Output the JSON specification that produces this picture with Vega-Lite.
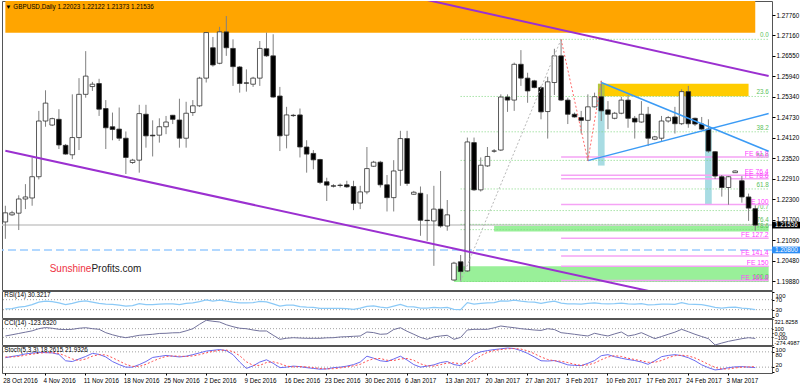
{
"$schema":"https://vega.github.io/schema/vega-lite/v6.json",
"padding":0,
"background":"white",
"spacing":1,
"bounds":"flush",
"config":{"view":{"stroke":"#555555","strokeWidth":1},"axis":{"labelFont":"Liberation Sans","labelFontSize":6.3,"labelColor":"#000","tickColor":"#000","tickSize":3,"labelPadding":1,"domain":false,"grid":false,"labelOverlap":false},"text":{"font":"Liberation Sans"}},
"datasets":{"candles":[
{"d":"2016-10-28","o":1.2163,"h":1.2211,"l":1.2113,"c":1.219,"r":33,"cc":-68,"k":57,"s":60},
{"d":"2016-10-30","o":1.2184,"h":1.2196,"l":1.2181,"c":1.219,"r":34,"cc":-40,"k":62,"s":60},
{"d":"2016-10-31","o":1.2189,"h":1.2242,"l":1.2139,"c":1.2231,"r":40,"cc":-10,"k":66,"s":62},
{"d":"2016-11-01","o":1.2231,"h":1.2275,"l":1.2201,"c":1.2237,"r":43,"cc":20,"k":72,"s":67},
{"d":"2016-11-02","o":1.2234,"h":1.2354,"l":1.2211,"c":1.2297,"r":50,"cc":50,"k":75,"s":71},
{"d":"2016-11-03","o":1.2297,"h":1.2492,"l":1.2289,"c":1.2462,"r":60,"cc":100,"k":78,"s":75},
{"d":"2016-11-04","o":1.2462,"h":1.2553,"l":1.2445,"c":1.2515,"r":64,"cc":125,"k":77,"s":77},
{"d":"2016-11-06","o":1.245,"h":1.2472,"l":1.2447,"c":1.2469,"r":62,"cc":110,"k":76,"s":77},
{"d":"2016-11-07","o":1.2467,"h":1.2497,"l":1.2379,"c":1.2391,"r":57,"cc":86,"k":70,"s":74},
{"d":"2016-11-08","o":1.239,"h":1.2394,"l":1.2362,"c":1.2364,"r":50,"cc":80,"k":45,"s":64},
{"d":"2016-11-09","o":1.2362,"h":1.2541,"l":1.2349,"c":1.2413,"r":55,"cc":85,"k":42,"s":52},
{"d":"2016-11-10","o":1.2413,"h":1.2589,"l":1.2376,"c":1.2541,"r":62,"cc":110,"k":52,"s":46},
{"d":"2016-11-11","o":1.2541,"h":1.2669,"l":1.2531,"c":1.2595,"r":65,"cc":122,"k":62,"s":52},
{"d":"2016-11-13","o":1.2564,"h":1.2578,"l":1.2551,"c":1.2571,"r":60,"cc":100,"k":74,"s":63},
{"d":"2016-11-14","o":1.2573,"h":1.2587,"l":1.2477,"c":1.2497,"r":55,"cc":86,"k":70,"s":69},
{"d":"2016-11-15","o":1.2499,"h":1.2524,"l":1.2379,"c":1.2442,"r":52,"cc":8,"k":60,"s":68},
{"d":"2016-11-16","o":1.2445,"h":1.2487,"l":1.2405,"c":1.2437,"r":51,"cc":-40,"k":42,"s":57},
{"d":"2016-11-17","o":1.2438,"h":1.2502,"l":1.2403,"c":1.2411,"r":48,"cc":-80,"k":30,"s":44},
{"d":"2016-11-18","o":1.2411,"h":1.2431,"l":1.2305,"c":1.2354,"r":44,"cc":-107,"k":20,"s":31},
{"d":"2016-11-20","o":1.2339,"h":1.235,"l":1.2335,"c":1.2346,"r":46,"cc":-80,"k":20,"s":23},
{"d":"2016-11-21","o":1.2346,"h":1.251,"l":1.2309,"c":1.2484,"r":54,"cc":-52,"k":30,"s":23},
{"d":"2016-11-22","o":1.2482,"h":1.251,"l":1.2383,"c":1.2418,"r":50,"cc":-40,"k":42,"s":31},
{"d":"2016-11-23","o":1.242,"h":1.2464,"l":1.2357,"c":1.2418,"r":50,"cc":-29,"k":58,"s":43},
{"d":"2016-11-24","o":1.242,"h":1.247,"l":1.2398,"c":1.2445,"r":52,"cc":-10,"k":62,"s":54},
{"d":"2016-11-25","o":1.2445,"h":1.2477,"l":1.2423,"c":1.2459,"r":53,"cc":-6,"k":66,"s":62},
{"d":"2016-11-27","o":1.2479,"h":1.248,"l":1.2453,"c":1.2467,"r":53,"cc":5,"k":63,"s":64},
{"d":"2016-11-28","o":1.2465,"h":1.2528,"l":1.2383,"c":1.2411,"r":50,"cc":8,"k":60,"s":63},
{"d":"2016-11-29","o":1.2411,"h":1.2519,"l":1.2383,"c":1.2485,"r":55,"cc":50,"k":63,"s":62},
{"d":"2016-11-30","o":1.2487,"h":1.2524,"l":1.2477,"c":1.2507,"r":57,"cc":99,"k":69,"s":64},
{"d":"2016-12-01","o":1.2507,"h":1.2593,"l":1.2504,"c":1.2589,"r":62,"cc":200,"k":76,"s":69},
{"d":"2016-12-02","o":1.2589,"h":1.2726,"l":1.2576,"c":1.2724,"r":69,"cc":292,"k":83,"s":76},
{"d":"2016-12-04","o":1.2679,"h":1.2711,"l":1.2623,"c":1.2628,"r":64,"cc":270,"k":86,"s":82},
{"d":"2016-12-05","o":1.2633,"h":1.2741,"l":1.263,"c":1.2726,"r":68,"cc":253,"k":89,"s":86},
{"d":"2016-12-06","o":1.2726,"h":1.2773,"l":1.2655,"c":1.2679,"r":64,"cc":190,"k":85,"s":87},
{"d":"2016-12-07","o":1.2677,"h":1.2704,"l":1.2566,"c":1.2623,"r":60,"cc":145,"k":69,"s":81},
{"d":"2016-12-08","o":1.2622,"h":1.2625,"l":1.2546,"c":1.2573,"r":57,"cc":110,"k":40,"s":65},
{"d":"2016-12-09","o":1.2575,"h":1.2615,"l":1.2549,"c":1.2574,"r":57,"cc":99,"k":15,"s":41},
{"d":"2016-12-11","o":1.2571,"h":1.2593,"l":1.2563,"c":1.2589,"r":58,"cc":70,"k":25,"s":27},
{"d":"2016-12-12","o":1.2589,"h":1.2699,"l":1.2566,"c":1.2677,"r":63,"cc":47,"k":40,"s":27},
{"d":"2016-12-13","o":1.2676,"h":1.2724,"l":1.2652,"c":1.2655,"r":61,"cc":47,"k":49,"s":38},
{"d":"2016-12-14","o":1.2655,"h":1.2719,"l":1.2531,"c":1.2533,"r":53,"cc":-50,"k":35,"s":41},
{"d":"2016-12-15","o":1.2536,"h":1.2563,"l":1.2373,"c":1.2418,"r":44,"cc":-144,"k":18,"s":34},
{"d":"2016-12-16","o":1.242,"h":1.2504,"l":1.2381,"c":1.248,"r":48,"cc":-120,"k":20,"s":24},
{"d":"2016-12-18","o":1.2479,"h":1.2483,"l":1.2474,"c":1.2478,"r":48,"cc":-107,"k":24,"s":21},
{"d":"2016-12-19","o":1.248,"h":1.2499,"l":1.2354,"c":1.2385,"r":42,"cc":-115,"k":22,"s":22},
{"d":"2016-12-20","o":1.2385,"h":1.2405,"l":1.2309,"c":1.2364,"r":40,"cc":-121,"k":18,"s":21},
{"d":"2016-12-21","o":1.2366,"h":1.2376,"l":1.2319,"c":1.2347,"r":39,"cc":-121,"k":15,"s":18},
{"d":"2016-12-22","o":1.2348,"h":1.235,"l":1.2275,"c":1.228,"r":35,"cc":-121,"k":12,"s":15},
{"d":"2016-12-23","o":1.2282,"h":1.2294,"l":1.2225,"c":1.2272,"r":35,"cc":-110,"k":13,"s":13},
{"d":"2016-12-25","o":1.227,"h":1.2275,"l":1.2265,"c":1.2269,"r":35,"cc":-107,"k":18,"s":14},
{"d":"2016-12-26","o":1.2272,"h":1.2277,"l":1.2265,"c":1.2271,"r":35,"cc":-90,"k":20,"s":17},
{"d":"2016-12-27","o":1.2273,"h":1.2285,"l":1.2264,"c":1.2267,"r":34,"cc":-84,"k":24,"s":21},
{"d":"2016-12-28","o":1.2268,"h":1.2285,"l":1.2198,"c":1.2218,"r":31,"cc":-75,"k":30,"s":25},
{"d":"2016-12-29","o":1.2219,"h":1.227,"l":1.2201,"c":1.2252,"r":36,"cc":-68,"k":40,"s":31},
{"d":"2016-12-30","o":1.2252,"h":1.2385,"l":1.2245,"c":1.2321,"r":43,"cc":24,"k":63,"s":44},
{"d":"2017-01-01","o":1.2328,"h":1.2344,"l":1.2326,"c":1.234,"r":45,"cc":10,"k":55,"s":53},
{"d":"2017-01-02","o":1.234,"h":1.2344,"l":1.2265,"c":1.2273,"r":40,"cc":-29,"k":45,"s":54},
{"d":"2017-01-03","o":1.2273,"h":1.2302,"l":1.2194,"c":1.2235,"r":37,"cc":-20,"k":42,"s":47},
{"d":"2017-01-04","o":1.2235,"h":1.2346,"l":1.2194,"c":1.2314,"r":44,"cc":80,"k":52,"s":46},
{"d":"2017-01-05","o":1.2316,"h":1.2433,"l":1.227,"c":1.241,"r":51,"cc":122,"k":63,"s":52},
{"d":"2017-01-06","o":1.241,"h":1.2433,"l":1.227,"c":1.2277,"r":42,"cc":40,"k":48,"s":54},
{"d":"2017-01-08","o":1.2245,"h":1.2255,"l":1.2243,"c":1.2251,"r":41,"cc":-29,"k":30,"s":47},
{"d":"2017-01-09","o":1.2248,"h":1.2268,"l":1.2122,"c":1.2168,"r":36,"cc":-100,"k":20,"s":33},
{"d":"2017-01-10","o":1.2168,"h":1.2245,"l":1.2107,"c":1.2167,"r":36,"cc":-144,"k":24,"s":25},
{"d":"2017-01-11","o":1.2166,"h":1.227,"l":1.2033,"c":1.2201,"r":39,"cc":-90,"k":29,"s":24},
{"d":"2017-01-12","o":1.2201,"h":1.2314,"l":1.2146,"c":1.2151,"r":37,"cc":-68,"k":38,"s":30},
{"d":"2017-01-13","o":1.2151,"h":1.2228,"l":1.2137,"c":1.2184,"r":39,"cc":-52,"k":42,"s":36},
{"d":"2017-01-15","o":1.1991,"h":1.2045,"l":1.1989,"c":1.2041,"r":31,"cc":-144,"k":30,"s":37},
{"d":"2017-01-16","o":1.2045,"h":1.2065,"l":1.1987,"c":1.2016,"r":30,"cc":-100,"k":26,"s":33},
{"d":"2017-01-17","o":1.2018,"h":1.2413,"l":1.2015,"c":1.24,"r":58,"cc":70,"k":46,"s":34},
{"d":"2017-01-18","o":1.2398,"h":1.2413,"l":1.2255,"c":1.2258,"r":52,"cc":85,"k":70,"s":47},
{"d":"2017-01-19","o":1.2258,"h":1.2354,"l":1.2253,"c":1.2331,"r":55,"cc":85,"k":80,"s":65},
{"d":"2017-01-20","o":1.2329,"h":1.2385,"l":1.2326,"c":1.2357,"r":57,"cc":85,"k":85,"s":78},
{"d":"2017-01-22","o":1.2373,"h":1.2379,"l":1.2368,"c":1.2373,"r":58,"cc":120,"k":89,"s":85},
{"d":"2017-01-23","o":1.2376,"h":1.2541,"l":1.2373,"c":1.2533,"r":65,"cc":161,"k":92,"s":89},
{"d":"2017-01-24","o":1.2533,"h":1.2541,"l":1.2489,"c":1.2524,"r":64,"cc":140,"k":95,"s":92},
{"d":"2017-01-25","o":1.2524,"h":1.2635,"l":1.2492,"c":1.263,"r":68,"cc":122,"k":93,"s":93},
{"d":"2017-01-26","o":1.263,"h":1.2672,"l":1.2566,"c":1.2589,"r":64,"cc":100,"k":85,"s":91},
{"d":"2017-01-27","o":1.2589,"h":1.2605,"l":1.2516,"c":1.2551,"r":61,"cc":85,"k":74,"s":84},
{"d":"2017-01-29","o":1.2581,"h":1.2584,"l":1.2559,"c":1.2561,"r":60,"cc":69,"k":60,"s":73},
{"d":"2017-01-30","o":1.2561,"h":1.2566,"l":1.2467,"c":1.2489,"r":55,"cc":60,"k":45,"s":60},
{"d":"2017-01-31","o":1.249,"h":1.2593,"l":1.241,"c":1.2578,"r":60,"cc":99,"k":44,"s":50},
{"d":"2017-02-01","o":1.2576,"h":1.2676,"l":1.2539,"c":1.2655,"r":64,"cc":80,"k":46,"s":45},
{"d":"2017-02-02","o":1.2655,"h":1.2704,"l":1.2521,"c":1.2524,"r":56,"cc":8,"k":38,"s":43},
{"d":"2017-02-03","o":1.2524,"h":1.2531,"l":1.2453,"c":1.2482,"r":53,"cc":-10,"k":29,"s":38},
{"d":"2017-02-05","o":1.2482,"h":1.2487,"l":1.2472,"c":1.2474,"r":53,"cc":-29,"k":27,"s":31},
{"d":"2017-02-06","o":1.2472,"h":1.2492,"l":1.2425,"c":1.2464,"r":52,"cc":-50,"k":26,"s":27},
{"d":"2017-02-07","o":1.2464,"h":1.2541,"l":1.2344,"c":1.2504,"r":55,"cc":-68,"k":35,"s":29},
{"d":"2017-02-08","o":1.2504,"h":1.2546,"l":1.2502,"c":1.2534,"r":57,"cc":-6,"k":46,"s":36},
{"d":"2017-02-09","o":1.2534,"h":1.2581,"l":1.2462,"c":1.2492,"r":54,"cc":-40,"k":65,"s":49},
{"d":"2017-02-10","o":1.2495,"h":1.2521,"l":1.2438,"c":1.2482,"r":53,"cc":-68,"k":69,"s":60},
{"d":"2017-02-12","o":1.247,"h":1.2489,"l":1.2467,"c":1.2485,"r":54,"cc":-20,"k":61,"s":65},
{"d":"2017-02-13","o":1.2485,"h":1.2534,"l":1.2482,"c":1.2524,"r":56,"cc":24,"k":55,"s":62},
{"d":"2017-02-14","o":1.2524,"h":1.2538,"l":1.2442,"c":1.247,"r":53,"cc":-68,"k":50,"s":55},
{"d":"2017-02-15","o":1.247,"h":1.2477,"l":1.241,"c":1.2459,"r":52,"cc":-40,"k":46,"s":50},
{"d":"2017-02-16","o":1.2459,"h":1.2521,"l":1.2457,"c":1.2482,"r":54,"cc":8,"k":40,"s":45},
{"d":"2017-02-17","o":1.2482,"h":1.2504,"l":1.2388,"c":1.2411,"r":49,"cc":-60,"k":31,"s":39},
{"d":"2017-02-19","o":1.2408,"h":1.2418,"l":1.2405,"c":1.2415,"r":50,"cc":-129,"k":45,"s":39},
{"d":"2017-02-20","o":1.2411,"h":1.2477,"l":1.2403,"c":1.2462,"r":52,"cc":-80,"k":61,"s":46},
{"d":"2017-02-21","o":1.2462,"h":1.2477,"l":1.2457,"c":1.2472,"r":52,"cc":-29,"k":66,"s":57},
{"d":"2017-02-22","o":1.2474,"h":1.2504,"l":1.2425,"c":1.2454,"r":51,"cc":20,"k":69,"s":65},
{"d":"2017-02-23","o":1.2454,"h":1.2556,"l":1.245,"c":1.2549,"r":58,"cc":85,"k":65,"s":67},
{"d":"2017-02-24","o":1.2549,"h":1.2566,"l":1.2442,"c":1.2454,"r":52,"cc":30,"k":57,"s":64},
{"d":"2017-02-26","o":1.247,"h":1.2472,"l":1.2447,"c":1.2453,"r":51,"cc":-29,"k":45,"s":56},
{"d":"2017-02-27","o":1.2453,"h":1.2474,"l":1.2436,"c":1.2438,"r":50,"cc":-80,"k":29,"s":44},
{"d":"2017-02-28","o":1.2438,"h":1.2467,"l":1.2368,"c":1.2373,"r":45,"cc":-129,"k":18,"s":31},
{"d":"2017-03-01","o":1.2371,"h":1.2373,"l":1.229,"c":1.2299,"r":39,"cc":-274,"k":9,"s":19},
{"d":"2017-03-02","o":1.2297,"h":1.2302,"l":1.2238,"c":1.2265,"r":36,"cc":-230,"k":12,"s":13},
{"d":"2017-03-03","o":1.2265,"h":1.2299,"l":1.2214,"c":1.2297,"r":39,"cc":-190,"k":18,"s":13},
{"d":"2017-03-05","o":1.2309,"h":1.2316,"l":1.2308,"c":1.2314,"r":40,"cc":-160,"k":21,"s":17},
{"d":"2017-03-06","o":1.2285,"h":1.2299,"l":1.222,"c":1.2237,"r":36,"cc":-130,"k":22,"s":20},
{"d":"2017-03-07","o":1.2237,"h":1.2247,"l":1.2166,"c":1.2204,"r":34,"cc":-107,"k":20,"s":21},
{"d":"2017-03-08","o":1.22023,"h":1.22122,"l":1.21373,"c":1.21536,"r":30.32,"cc":-123.63,"k":18.26,"s":21.93}
]},
"vconcat":[
{
"width":770,"height":289,
"resolve":{"axis":{"y":"independent"}},
"layer":[
{"data":{"values":[{"d":"2016-10-28","d2":"2017-03-08","y0":1.284,"y1":1.27236}]},
 "mark":{"type":"rect","color":"#FFA500","clip":true},
 "encoding":{"x":{"field":"d","type":"ordinal","scale":{"type":"band","paddingInner":0,"paddingOuter":0},"axis":null},"x2":{"field":"d2"},"y":{"field":"y0","type":"quantitative","scale":{"domain":[1.19614,1.28175],"nice":false,"zero":false},"axis":null},"y2":{"field":"y1"}}},
{"data":{"values":[{"d":"2017-02-09","d2":"2017-03-07","y0":1.25726,"y1":1.25354}]},
 "mark":{"type":"rect","color":"#FFCC00"},
 "encoding":{"x":{"field":"d","type":"ordinal","scale":{"type":"band"},"axis":null},"x2":{"field":"d2"},"y":{"field":"y0","type":"quantitative","axis":null},"y2":{"field":"y1"}}},
{"data":{"values":[{"d":"2017-02-09","y0":1.25354,"y1":1.2330},{"d":"2017-02-28","y0":1.24377,"y1":1.22157}]},
 "mark":{"type":"rect","color":"#a8dce3"},
 "encoding":{"x":{"field":"d","type":"ordinal","scale":{"type":"band"},"axis":null},"y":{"field":"y0","type":"quantitative","axis":null},"y2":{"field":"y1"}}},
{"data":{"values":[{"d":"2017-02-09","y0":1.25726,"y1":1.25354}]},
 "mark":{"type":"rect","color":"#b6c63c"},
 "encoding":{"x":{"field":"d","type":"ordinal","scale":{"type":"band"},"axis":null},"y":{"field":"y0","type":"quantitative","axis":null},"y2":{"field":"y1"}}},
{"data":{"values":[{"d":"2017-01-22","d2":"2017-03-10","y0":1.21514,"y1":1.21345},{"d":"2017-01-15","d2":"2017-03-10","y0":1.20315,"y1":1.1985}]},
 "mark":{"type":"rect","color":"#99f099"},
 "encoding":{"x":{"field":"d","type":"ordinal","scale":{"type":"band"},"axis":null},"x2":{"field":"d2"},"y":{"field":"y0","type":"quantitative","axis":null},"y2":{"field":"y1"}}},
{"data":{"values":[{"p":1.21536,"t":"cur"}]},
 "mark":{"type":"rule","color":"#c8c8c8","strokeWidth":1.5},
 "encoding":{"y":{"field":"p","type":"quantitative","axis":null}}},
{"data":{"values":[{"p":1.208,"t":"lvl"}]},
 "mark":{"type":"rule","color":"#99ccff","strokeWidth":1.5,"strokeDash":[8,4]},
 "encoding":{"y":{"field":"p","type":"quantitative","axis":null}}},
{"data":{"values":[{"d":"2017-01-16","d2":"2017-03-10","p":1.2704,"t":"0.0"},{"d":"2017-01-16","d2":"2017-03-10","p":1.25347,"t":"23.6"},{"d":"2017-01-16","d2":"2017-03-10","p":1.243,"t":"38.2"},{"d":"2017-01-16","d2":"2017-03-10","p":1.23453,"t":"50.0"},{"d":"2017-01-16","d2":"2017-03-10","p":1.22607,"t":"61.8"},{"d":"2017-01-16","d2":"2017-03-10","p":1.21967,"t":"70.7"},{"d":"2017-01-16","d2":"2017-03-10","p":1.21559,"t":"76.4"},{"d":"2017-01-16","d2":"2017-03-10","p":1.21402,"t":"78.6"},{"d":"2017-01-16","d2":"2017-03-10","p":1.19866,"t":"100.0"}]},
 "resolve":{"axis":{"y":"independent"}},
 "layer":[
  {"mark":{"type":"rule","color":"#7fd67f","strokeWidth":1,"strokeDash":[1,2]},
   "encoding":{"x":{"field":"d","type":"ordinal","scale":{"type":"band"},"axis":null},"x2":{"field":"d2"},"y":{"field":"p","type":"quantitative","axis":null}}},
  {"mark":{"type":"text","color":"#5cbf5c","fontSize":6.3,"align":"right","baseline":"bottom","dy":-1},
   "encoding":{"x":{"field":"d2","type":"ordinal","scale":{"type":"band"},"axis":null},"y":{"field":"p","type":"quantitative","axis":null},"text":{"field":"t"}}}
 ]},
{"data":{"values":[{"d":"2017-02-02","d2":"2017-03-10","p":1.23556,"t":"FE 61.8"},{"d":"2017-02-02","d2":"2017-03-10","p":1.2301,"t":"FE 76.4"},{"d":"2017-02-02","d2":"2017-03-10","p":1.2291,"t":"FE 78.6"},{"d":"2017-02-02","d2":"2017-03-10","p":1.22145,"t":"FE 100"},{"d":"2017-02-02","d2":"2017-03-10","p":1.2115,"t":"FE 127.2"},{"d":"2017-02-02","d2":"2017-03-10","p":1.20624,"t":"FE 141.4"},{"d":"2017-02-02","d2":"2017-03-10","p":1.20321,"t":"FE 150"},{"d":"2017-02-02","d2":"2017-03-10","p":1.19895,"t":"FE 161.8"}]},
 "resolve":{"axis":{"y":"independent"}},
 "layer":[
  {"mark":{"type":"rule","color":"#f5a3f5","strokeWidth":1.5},
   "encoding":{"x":{"field":"d","type":"ordinal","scale":{"type":"band"},"axis":null},"x2":{"field":"d2"},"y":{"field":"p","type":"quantitative","axis":null}}},
  {"mark":{"type":"text","color":"#ff40ff","fontSize":6.8,"align":"right","baseline":"bottom","dy":0},
   "encoding":{"x":{"field":"d2","type":"ordinal","scale":{"type":"band"},"axis":null},"y":{"field":"p","type":"quantitative","axis":null},"text":{"field":"t"}}}
 ]},
{"data":{"name":"candles"},
 "resolve":{"axis":{"y":"independent"}},
 "encoding":{"x":{"field":"d","type":"ordinal","scale":{"type":"band","paddingInner":0,"paddingOuter":0,"domain":["2016-10-28","2016-10-30","2016-10-31","2016-11-01","2016-11-02","2016-11-03","2016-11-04","2016-11-06","2016-11-07","2016-11-08","2016-11-09","2016-11-10","2016-11-11","2016-11-13","2016-11-14","2016-11-15","2016-11-16","2016-11-17","2016-11-18","2016-11-20","2016-11-21","2016-11-22","2016-11-23","2016-11-24","2016-11-25","2016-11-27","2016-11-28","2016-11-29","2016-11-30","2016-12-01","2016-12-02","2016-12-04","2016-12-05","2016-12-06","2016-12-07","2016-12-08","2016-12-09","2016-12-11","2016-12-12","2016-12-13","2016-12-14","2016-12-15","2016-12-16","2016-12-18","2016-12-19","2016-12-20","2016-12-21","2016-12-22","2016-12-23","2016-12-25","2016-12-26","2016-12-27","2016-12-28","2016-12-29","2016-12-30","2017-01-01","2017-01-02","2017-01-03","2017-01-04","2017-01-05","2017-01-06","2017-01-08","2017-01-09","2017-01-10","2017-01-11","2017-01-12","2017-01-13","2017-01-15","2017-01-16","2017-01-17","2017-01-18","2017-01-19","2017-01-20","2017-01-22","2017-01-23","2017-01-24","2017-01-25","2017-01-26","2017-01-27","2017-01-29","2017-01-30","2017-01-31","2017-02-01","2017-02-02","2017-02-03","2017-02-05","2017-02-06","2017-02-07","2017-02-08","2017-02-09","2017-02-10","2017-02-12","2017-02-13","2017-02-14","2017-02-15","2017-02-16","2017-02-17","2017-02-19","2017-02-20","2017-02-21","2017-02-22","2017-02-23","2017-02-24","2017-02-26","2017-02-27","2017-02-28","2017-03-01","2017-03-02","2017-03-03","2017-03-05","2017-03-06","2017-03-07","2017-03-08","2017-03-09","2017-03-10"]},"axis":null}},
 "layer":[
  {"mark":{"type":"rule","color":"#808080","strokeWidth":1},
   "encoding":{"y":{"field":"l","type":"quantitative","scale":{"domain":[1.19614,1.28175],"nice":false,"zero":false},"axis":{"orient":"right","values":[1.2776,1.2716,1.2655,1.2594,1.2534,1.2473,1.2412,1.2352,1.2291,1.223,1.217,1.2109,1.2048,1.1988],"format":".5f","title":null}},"y2":{"field":"h"}}},
  {"mark":{"type":"bar","width":4.6,"stroke":"#303030","strokeWidth":0.8},
   "encoding":{"y":{"field":"o","type":"quantitative","axis":null},"y2":{"field":"c"},"fill":{"condition":{"test":"datum.c >= datum.o","value":"#ffffff"},"value":"#000000"}}}
 ]},
{"data":{"values":[{"d":"2017-01-06","p":1.28337,"g":"u"},{"d":"2017-03-10","p":1.25953,"g":"u"},{"d":"2016-10-28","p":1.2374,"g":"l"},{"d":"2017-02-22","p":1.19416,"g":"l"}]},
 "mark":{"type":"line","color":"#9b30d0","strokeWidth":2,"clip":true},
 "encoding":{"x":{"field":"d","type":"ordinal","scale":{"type":"band"},"axis":null},"y":{"field":"p","type":"quantitative","axis":null},"detail":{"field":"g"}}},
{"data":{"values":[{"d":"2017-02-09","p":1.25762,"g":"a"},{"d":"2017-03-10","p":1.23723,"g":"a"},{"d":"2017-02-07","p":1.23447,"g":"b"},{"d":"2017-03-10","p":1.24842,"g":"b"}]},
 "mark":{"type":"line","color":"#3b9bf5","strokeWidth":1.5},
 "encoding":{"x":{"field":"d","type":"ordinal","scale":{"type":"band"},"axis":null},"y":{"field":"p","type":"quantitative","axis":null},"detail":{"field":"g"}}},
{"data":{"values":[{"d":"2017-02-02","p":1.2704},{"d":"2017-02-07","p":1.2344},{"d":"2017-02-09","p":1.2581}]},
 "mark":{"type":"line","color":"#ff6b6b","strokeWidth":1,"strokeDash":[2,2]},
 "encoding":{"x":{"field":"d","type":"ordinal","scale":{"type":"band"},"axis":null},"y":{"field":"p","type":"quantitative","axis":null}}},
{"data":{"values":[{"d":"2017-01-16","p":1.1987},{"d":"2017-02-02","p":1.2704}]},
 "mark":{"type":"line","color":"#b8b8b8","strokeWidth":1,"strokeDash":[2,2]},
 "encoding":{"x":{"field":"d","type":"ordinal","scale":{"type":"band"},"axis":null},"y":{"field":"p","type":"quantitative","axis":null}}},
{"data":{"values":[{"d":"2016-10-28","p":1.27997,"t":"\u25bc GBPUSD,Daily  1.22023 1.22122 1.21373 1.21536"}]},
 "mark":{"type":"text","fontSize":6.3,"align":"left","baseline":"middle","color":"#000"},
 "encoding":{"x":{"field":"d","type":"ordinal","scale":{"type":"band"},"axis":null},"y":{"field":"p","type":"quantitative","axis":null},"text":{"field":"t"}}},
{"data":{"values":[{"d":"2016-11-13","p":1.20233,"t":"Sunshine"}]},
 "mark":{"type":"text","fontSize":10,"align":"right","baseline":"middle","color":"#ee3344","dx":-1},
 "encoding":{"x":{"field":"d","type":"ordinal","scale":{"type":"band"},"axis":null},"y":{"field":"p","type":"quantitative","axis":null},"text":{"field":"t"}}},
{"data":{"values":[{"d":"2016-11-13","p":1.20233,"t":"Profits.com"}]},
 "mark":{"type":"text","fontSize":10,"align":"left","baseline":"middle","color":"#222222","dx":-1},
 "encoding":{"x":{"field":"d","type":"ordinal","scale":{"type":"band"},"axis":null},"y":{"field":"p","type":"quantitative","axis":null},"text":{"field":"t"}}},
{"data":{"values":[{"p0":1.21636,"p1":1.21436,"p":1.21536,"t":"1.21536","bg":"#000000"},{"p0":1.209,"p1":1.207,"p":1.208,"t":"1.20800","bg":"#2d8ef5"}]},
 "resolve":{"axis":{"y":"independent"}},
 "layer":[
  {"mark":{"type":"rect"},"encoding":{"x":{"value":"width"},"x2":{"value":{"expr":"width+29"}},"y":{"field":"p0","type":"quantitative","axis":null},"y2":{"field":"p1"},"color":{"field":"bg","type":"nominal","scale":null}}},
  {"mark":{"type":"text","fontSize":6.3,"align":"left","baseline":"middle","color":"#ffffff","dx":3},"encoding":{"x":{"value":"width"},"y":{"field":"p","type":"quantitative","axis":null},"text":{"field":"t"}}}
 ]}
]
},
{
"width":770,"height":27,
"data":{"name":"candles"},
"resolve":{"axis":{"y":"independent"}},
"layer":[
 {"data":{"values":[{"v":70},{"v":30}]},"mark":{"type":"rule","color":"#a0a0a0","strokeDash":[1,2]},"encoding":{"y":{"field":"v","type":"quantitative","scale":{"domain":[-3.3,104.7],"nice":false,"zero":false},"axis":null}}},
 {"mark":{"type":"line","color":"#8ccaf7","strokeWidth":1.2},"encoding":{"x":{"field":"d","type":"ordinal","scale":{"type":"band","paddingInner":0,"paddingOuter":1,"align":0},"axis":null},"y":{"field":"r","type":"quantitative","scale":{"domain":[-3.3,104.7],"nice":false,"zero":false},"axis":{"orient":"right","values":[0,30,70,100],"title":null,"labelFlush":6,"tickSize":2,"labelFontSize":6}}}},
 {"data":{"values":[{"d":"2016-10-28","v":104,"t":"RSI(14) 30.3217"}]},"mark":{"type":"text","fontSize":6.3,"align":"left","baseline":"top","color":"#000","dx":-1,"dy":1},"encoding":{"x":{"field":"d","type":"ordinal","scale":{"type":"band"},"axis":null},"y":{"field":"v","type":"quantitative","axis":null},"text":{"field":"t"}}}
]
},
{
"width":770,"height":26,
"data":{"name":"candles"},
"resolve":{"axis":{"y":"independent"}},
"layer":[
 {"data":{"values":[{"v":100},{"v":-100}]},"mark":{"type":"rule","color":"#a0a0a0","strokeDash":[1,2]},"encoding":{"y":{"field":"v","type":"quantitative","scale":{"domain":[-274.4987,321.8258],"nice":false,"zero":false},"axis":null}}},
 {"mark":{"type":"line","color":"#72729c","strokeWidth":1},"encoding":{"x":{"field":"d","type":"ordinal","scale":{"type":"band","paddingInner":0,"paddingOuter":1,"align":0},"axis":null},"y":{"field":"cc","type":"quantitative","scale":{"domain":[-274.4987,321.8258],"nice":false,"zero":false},"axis":{"orient":"right","values":[321.8258,100,0,-100,-274.4987],"labelExpr":"datum.value>300?'321.8258':datum.value<-200?'-274.4987':datum.value==0?'0.00':format(datum.value,'d')","title":null,"labelFlush":6,"tickSize":1,"labelPadding":1,"labelFontSize":5.6}}}},
 {"data":{"values":[{"d":"2016-10-28","v":321,"t":"CCI(14) -123.6320"}]},"mark":{"type":"text","fontSize":6.3,"align":"left","baseline":"top","color":"#000","dx":-1,"dy":1},"encoding":{"x":{"field":"d","type":"ordinal","scale":{"type":"band"},"axis":null},"y":{"field":"v","type":"quantitative","axis":null},"text":{"field":"t"}}}
]
},
{
"width":770,"height":27,
"data":{"name":"candles"},
"resolve":{"axis":{"y":"independent","x":"independent"}},
"layer":[
 {"data":{"values":[{"v":80},{"v":20}]},"mark":{"type":"rule","color":"#a0a0a0","strokeDash":[1,2]},"encoding":{"y":{"field":"v","type":"quantitative","scale":{"domain":[-3,103],"nice":false,"zero":false},"axis":null}}},
 {"mark":{"type":"line","color":"#6a6af0","strokeWidth":1},"encoding":{"x":{"field":"d","type":"ordinal","scale":{"type":"band","paddingInner":0,"paddingOuter":1,"align":0},"axis":{"orient":"bottom","values":["2016-10-28","2016-11-04","2016-11-11","2016-11-18","2016-11-25","2016-12-02","2016-12-09","2016-12-16","2016-12-23","2016-12-30","2017-01-06","2017-01-13","2017-01-20","2017-01-27","2017-02-03","2017-02-10","2017-02-17","2017-02-24","2017-03-03"],"labelExpr":"utcFormat(toDate(datum.value),'%-d %b %Y')","labelAngle":0,"labelAlign":"left","labelOffset":-2,"tickSize":2,"labelPadding":2,"labelFontSize":6.3,"title":null}},"y":{"field":"k","type":"quantitative","scale":{"domain":[-3,103],"nice":false,"zero":false},"axis":{"orient":"right","values":[0,20,80,100],"title":null,"labelFlush":6,"tickSize":2,"labelFontSize":6}}}},
 {"mark":{"type":"line","color":"#ff5050","strokeWidth":1,"strokeDash":[2,2]},"encoding":{"x":{"field":"d","type":"ordinal","scale":{"type":"band"},"axis":null},"y":{"field":"s","type":"quantitative","axis":null}}},
 {"data":{"values":[{"d":"2016-10-28","v":102,"t":"Stoch(5,3,3) 18.2615 21.9326"}]},"mark":{"type":"text","fontSize":6.3,"align":"left","baseline":"top","color":"#000","dx":-1,"dy":1},"encoding":{"x":{"field":"d","type":"ordinal","scale":{"type":"band"},"axis":null},"y":{"field":"v","type":"quantitative","axis":null},"text":{"field":"t"}}}
]
}
]
}
